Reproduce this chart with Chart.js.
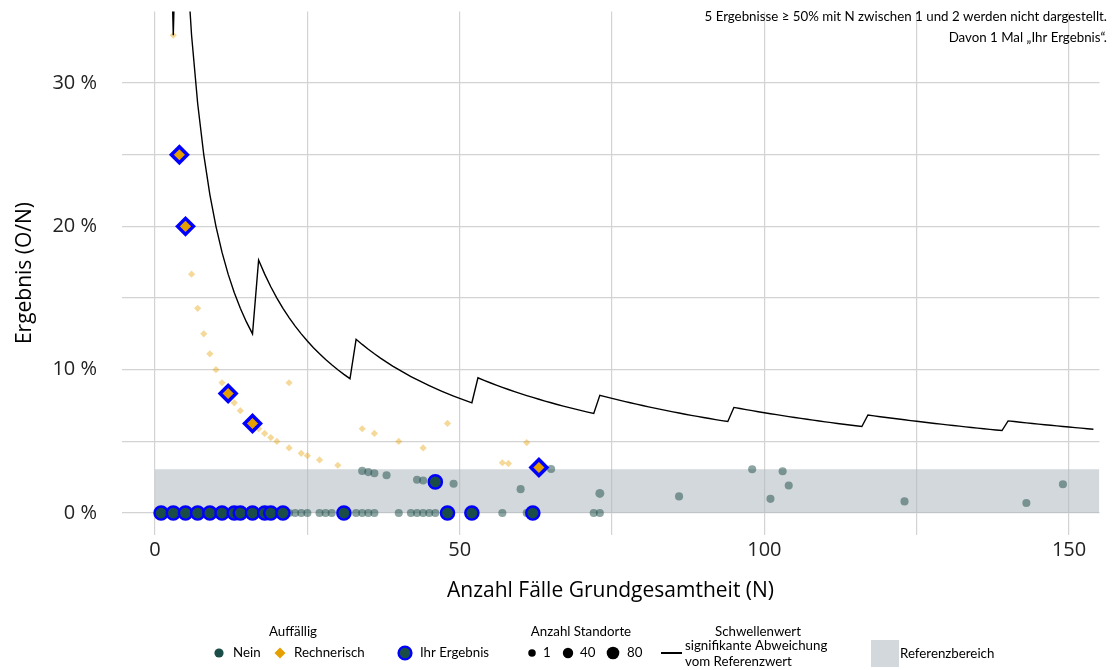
<!DOCTYPE html>
<html lang="de">
<head>
<meta charset="utf-8">
<title>Ergebnis (O/N)</title>
<script src="https://cdn.jsdelivr.net/npm/chart.js@4.4.1/dist/chart.umd.min.js"></script>
<style>
  html, body { margin: 0; padding: 0; background: #fff; }
  #contenedor { width: 1112px; height: 670px; position: relative; }
</style>
</head>
<body>
<div id="contenedor"><canvas id="grafico"></canvas></div>
<script>
// Auffällig: Nein (N = Fälle, O = beobachtete Ereignisse)
const neinN = [22, 23, 24, 25, 27, 28, 29, 33, 34, 35, 36, 40, 42, 43, 44, 45, 46, 57, 61, 72, 73,
               34, 35, 36, 38, 43, 44, 49, 60, 65, 73, 86, 98, 101, 103, 104, 123, 143, 149]
const neinO = [0, 0, 0, 0, 0, 0, 0, 0, 0, 0, 0, 0, 0, 0, 0, 0, 0, 0, 0, 0, 0,
               1, 1, 1, 1, 1, 1, 1, 1, 2, 1, 1, 3, 1, 3, 2, 1, 1, 3]
const neinStandorte = [1, 1, 1, 1, 1, 1, 1, 1, 1, 1, 1, 1, 1, 1, 1, 1, 1, 1, 1, 1, 1,
                       1, 1, 1, 1, 1, 1, 1, 1, 1, 12, 1, 1, 1, 1, 1, 1, 1, 1]

// Auffällig: Rechnerisch
const rechN = [3, 6, 7, 8, 9, 10, 11, 13, 14, 17, 18, 19, 20, 22, 22, 24, 25, 27, 30, 34, 36, 40, 44, 48, 57, 58, 61]
const rechO = [1, 1, 1, 1, 1, 1, 1, 1, 1, 1, 1, 1, 1, 2, 1, 1, 1, 1, 1, 2, 2, 2, 2, 3, 2, 2, 3]

// Ihr Ergebnis
const ihrNeinN = [1, 3, 5, 7, 9, 11, 13, 14, 16, 18, 19, 21, 31, 46, 48, 52, 62]
const ihrNeinO = [0, 0, 0, 0, 0, 0, 0, 0, 0, 0, 0, 0, 0, 1, 0, 0, 0]
const ihrRechN = [4, 5, 12, 16, 63]
const ihrRechO = [1, 1, 1, 1, 2]

// Schwellenwert: kritische Anzahl O für N = 1 ... 154
const schwelleO = [
  1, 1, 1,
  2, 2, 2, 2, 2, 2, 2, 2, 2, 2, 2, 2, 2,
  3, 3, 3, 3, 3, 3, 3, 3, 3, 3, 3, 3, 3, 3, 3, 3,
  4, 4, 4, 4, 4, 4, 4, 4, 4, 4, 4, 4, 4, 4, 4, 4, 4, 4, 4, 4,
  5, 5, 5, 5, 5, 5, 5, 5, 5, 5, 5, 5, 5, 5, 5, 5, 5, 5, 5, 5,
  6, 6, 6, 6, 6, 6, 6, 6, 6, 6, 6, 6, 6, 6, 6, 6, 6, 6, 6, 6, 6, 6,
  7, 7, 7, 7, 7, 7, 7, 7, 7, 7, 7, 7, 7, 7, 7, 7, 7, 7, 7, 7, 7, 7,
  8, 8, 8, 8, 8, 8, 8, 8, 8, 8, 8, 8, 8, 8, 8, 8, 8, 8, 8, 8, 8, 8, 8,
  9, 9, 9, 9, 9, 9, 9, 9, 9, 9, 9, 9, 9, 9, 9
]

// Referenzbereich (in %)
const referenzVonN = 0
const referenzBisN = 155
const referenzOben = 3.06

const ticksY = [0, 10, 20, 30]
const ticksX = [0, 50, 100, 150]

const hinweis = ['5 Ergebnisse ≥ 50% mit N zwischen 1 und 2 werden nicht dargestellt.',
                 'Davon 1 Mal „Ihr Ergebnis“.']

const TEAL = '#1b4d48'
const ORANGE = '#E69F00'
const BLAU = '#0000FF'
const SCHRIFT = '"Open Sans", "Noto Sans", sans-serif'
const SCHRIFT_LEG = 'Lato, "Noto Sans", sans-serif'

function punkte(arrN, arrO){
    let salida = []
    for (let i = 0; i < arrN.length; i++){
        salida.push({x: arrN[i], y: arrO[i] / arrN[i] * 100})
    }
    return salida
}

function radio(anzahl){
    return Math.sqrt(16 + 0.35 * anzahl)
}

let linea = []
for (let n = 1; n <= schwelleO.length; n++){
    linea.push({x: n, y: schwelleO[n - 1] / n * 100})
}

const leyenda = {
    id: 'leyenda',
    afterDraw(chart){
        const ctx = chart.ctx
        ctx.save()
        ctx.fillStyle = '#000'
        ctx.textBaseline = 'middle'

        // Hinweis oben rechts
        ctx.font = '13.3px ' + SCHRIFT_LEG
        ctx.textAlign = 'right'
        ctx.fillText(hinweis[0], 1107, 17)
        ctx.fillText(hinweis[1], 1107, 38)

        // Titel
        ctx.textAlign = 'center'
        ctx.fillText('Auffällig', 293, 632)
        ctx.fillText('Anzahl Standorte', 581, 632)
        ctx.fillText('Schwellenwert', 758, 632)

        ctx.textAlign = 'left'
        const yf = 653

        // Nein
        ctx.fillStyle = TEAL
        ctx.beginPath(); ctx.arc(219, yf, 4.6, 0, Math.PI * 2); ctx.fill()
        ctx.fillStyle = '#000'
        ctx.fillText('Nein', 233, yf)

        // Rechnerisch
        ctx.fillStyle = ORANGE
        ctx.beginPath()
        ctx.moveTo(280, yf - 5.5); ctx.lineTo(285.5, yf); ctx.lineTo(280, yf + 5.5); ctx.lineTo(274.5, yf)
        ctx.closePath(); ctx.fill()
        ctx.fillStyle = '#000'
        ctx.fillText('Rechnerisch', 294, yf)

        // Ihr Ergebnis
        ctx.fillStyle = TEAL
        ctx.strokeStyle = BLAU
        ctx.lineWidth = 2.4
        ctx.beginPath(); ctx.arc(405, yf, 6.4, 0, Math.PI * 2); ctx.fill(); ctx.stroke()
        ctx.fillStyle = '#000'
        ctx.fillText('Ihr Ergebnis', 420, yf)

        // Anzahl Standorte
        const groessen = [[532, 1, '1', 543], [568, 40, '40', 580], [613, 80, '80', 627]]
        for (let g of groessen){
            ctx.beginPath(); ctx.arc(g[0], yf, radio(g[1]) - 0.3, 0, Math.PI * 2); ctx.fill()
            ctx.fillText(g[2], g[3], yf)
        }

        // Schwellenwert
        ctx.strokeStyle = '#000'
        ctx.lineWidth = 2
        ctx.beginPath(); ctx.moveTo(661, yf); ctx.lineTo(682, yf); ctx.stroke()
        ctx.fillText('signifikante Abweichung', 685, 646)
        ctx.fillText('vom Referenzwert', 685, 662)

        // Referenzbereich
        ctx.fillStyle = '#d3d8dc'
        ctx.fillRect(871, 640, 28, 27)
        ctx.fillStyle = '#000'
        ctx.fillText('Referenzbereich', 900, 654)
        ctx.restore()
    }
}

const datos = {
    datasets: [
        {
            label: 'Ihr Ergebnis Rechnerisch',
            data: punkte(ihrRechN, ihrRechO),
            order: 1,
            pointStyle: 'rectRot',
            pointRadius: 8,
            backgroundColor: ORANGE,
            borderColor: BLAU,
            borderWidth: 3.5
        },
        {
            label: 'Ihr Ergebnis Nein',
            data: punkte(ihrNeinN, ihrNeinO),
            order: 2,
            pointStyle: 'circle',
            pointRadius: 6.6,
            backgroundColor: TEAL,
            borderColor: BLAU,
            borderWidth: 2.4
        },
        {
            type: 'line',
            label: 'Schwellenwert',
            data: linea,
            order: 3,
            borderColor: '#000',
            borderWidth: 1.4,
            pointRadius: 0,
            tension: 0,
            fill: false
        },
        {
            label: 'Rechnerisch',
            data: punkte(rechN, rechO),
            order: 4,
            pointStyle: 'rectRot',
            pointRadius: 3.6,
            backgroundColor: 'rgba(230, 159, 0, 0.4)',
            borderWidth: 0
        },
        {
            label: 'Nein',
            data: punkte(neinN, neinO),
            order: 5,
            pointStyle: 'circle',
            pointRadius: c => radio(neinStandorte[c.dataIndex]),
            backgroundColor: 'rgba(27, 77, 72, 0.5)',
            borderWidth: 0
        },
        {
            type: 'line',
            label: 'Referenzbereich',
            data: [{x: referenzVonN, y: referenzOben}, {x: referenzBisN, y: referenzOben}],
            order: 6,
            borderWidth: 0,
            pointRadius: 0,
            fill: 'origin',
            backgroundColor: 'rgba(175, 184, 192, 0.55)'
        }
    ]
}

const config = {
    type: 'scatter',
    data: datos,
    plugins: [leyenda],
    options: {
        responsive: true,
        maintainAspectRatio: false,
        animation: false,
        layout: { padding: { top: 10, right: 12.5, bottom: 64, left: 0 } },
        plugins: {
            legend: { display: false },
            tooltip: { enabled: false }
        },
        scales: {
            x: {
                type: 'linear',
                min: -5.5,
                max: 155,
                border: { display: false },
                grid: { color: '#d3d3d3', lineWidth: 1.2, drawTicks: false },
                ticks: {
                    stepSize: 25,
                    includeBounds: false,
                    padding: 3.5,
                    color: '#222',
                    font: { family: SCHRIFT, size: 20 },
                    callback: v => ticksX.includes(v) ? String(v) : ''
                },
                title: {
                    display: true,
                    text: 'Anzahl Fälle Grundgesamtheit (N)',
                    color: '#000',
                    font: { family: SCHRIFT, size: 21 },
                    padding: { top: 0, bottom: 2.4 }
                },
                afterFit: s => {
                    s.height = 71.45
                    s.paddingLeft = 0
                    s.paddingRight = 0
                }
            },
            y: {
                type: 'linear',
                min: -1.5,
                max: 34.99,
                border: { display: false },
                grid: { color: '#d3d3d3', lineWidth: 1.2, drawTicks: false },
                ticks: {
                    stepSize: 5,
                    includeBounds: false,
                    padding: 24.5,
                    color: '#222',
                    font: { family: SCHRIFT, size: 20 },
                    callback: v => ticksY.includes(v) ? v + ' %' : ''
                },
                title: {
                    display: true,
                    text: 'Ergebnis (O/N)',
                    color: '#000',
                    font: { family: SCHRIFT, size: 21 },
                    padding: { top: 12.4, bottom: 0 }
                },
                afterFit: s => {
                    s.width = 121.5
                    s.paddingTop = 0
                    s.paddingBottom = 0
                }
            }
        }
    }
}

let miGrafico = new Chart(document.getElementById('grafico'), config)
</script>
</body>
</html>
